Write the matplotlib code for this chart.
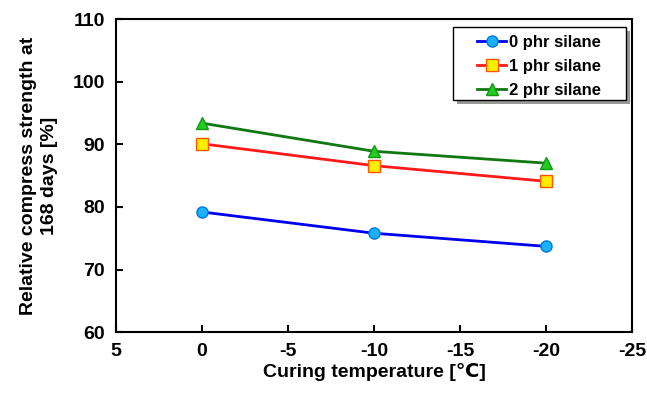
import matplotlib
matplotlib.use("Agg")
import matplotlib.pyplot as plt
from matplotlib.patches import Rectangle

temps = [0, -10, -20]
silane_0 = [79.2, 75.8, 73.7]
silane_1 = [90.1, 86.6, 84.1]
silane_2 = [93.4, 88.9, 87.0]

plt.rcParams['font.family'] = ['Liberation Sans', 'DejaVu Sans']
plt.rcParams['font.weight'] = 'bold'
plt.rcParams['axes.unicode_minus'] = False

fig = plt.figure(figsize=(6.47, 3.93), dpi=100)
ax = fig.add_axes([0.179, 0.155, 0.798, 0.796])

ax.plot(temps, silane_0, color='#0000ee', lw=2, marker='o', ms=8,
        mfc='#1ab2ff', mec='#0077dd', label='0 phr silane')
ax.plot(temps, silane_1, color='#ff1a1a', lw=2, marker='s', ms=8,
        mfc='#ffee00', mec='#ff5500', label='1 phr silane')
ax.plot(temps, silane_2, color='#117711', lw=2, marker='^', ms=8,
        mfc='#22cc22', mec='#119911', label='2 phr silane')

ax.set_xlim(5, -25)
ax.set_ylim(60, 110)
ax.set_xticks([5, 0, -5, -10, -15, -20, -25])
ax.set_yticks([60, 70, 80, 90, 100, 110])
ax.tick_params(direction='in', length=5, width=1.5, labelsize=14, pad=8)
for lbl in ax.get_xticklabels() + ax.get_yticklabels():
    lbl.set_fontweight('bold')
for sp in ax.spines.values():
    sp.set_linewidth(1.5)

ax.set_xlabel('Curing temperature [\u2103]', fontsize=14, fontweight='bold',
              family=['Liberation Sans', 'DejaVu Sans', 'Noto Sans CJK SC'],
              labelpad=2)
ax.set_ylabel('Relative compress strength at\n168 days [%]', fontsize=14,
              fontweight='bold', labelpad=10, linespacing=1.35)

# legend box drawn by hand: wide side padding plus a drop shadow
box_x, box_y, box_w, box_h = 0.653, 0.741, 0.335, 0.233
shadow = Rectangle((box_x + 0.007, box_y - 0.011), box_w, box_h,
                   transform=ax.transAxes, facecolor='#555555',
                   edgecolor='none', alpha=0.6, zorder=4)
frame = Rectangle((box_x, box_y), box_w, box_h, transform=ax.transAxes,
                  facecolor='white', edgecolor='black', lw=1, zorder=5)
ax.add_patch(shadow)
ax.add_patch(frame)

leg = ax.legend(loc='center', bbox_to_anchor=(0.82, 0.85), frameon=False,
                prop={'weight': 'bold', 'size': 12}, handlelength=1.7,
                borderpad=0, labelspacing=0.55, handletextpad=0.2,
                borderaxespad=0)
leg.set_zorder(6)

fig.savefig('out.png', dpi=100)
